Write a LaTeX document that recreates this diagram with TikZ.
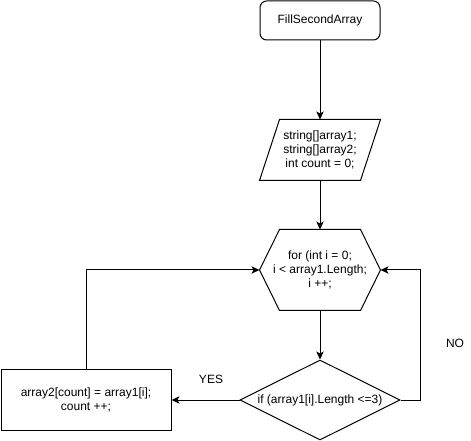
\documentclass[tikz,border=0pt]{standalone}
\usepackage{fontspec}
\setmainfont{Liberation Sans}
\usetikzlibrary{shapes.geometric, arrows.meta, calc}

\begin{document}
\begin{tikzpicture}[
    x=0.75pt, y=-0.75pt,
    line width=0.75pt,
    every node/.style={font=\fontsize{9pt}{10.5pt}\selectfont, align=center},
    term/.style={draw, rounded corners=5pt, minimum width=90pt, minimum height=29.25pt},
    shapebox/.style={minimum width=90pt, inner sep=0pt},
    decision/.style={draw, diamond, aspect=2, inner sep=0pt, minimum width=120pt, minimum height=60pt},
    process/.style={draw, minimum width=127.5pt, minimum height=45pt},
    lbl/.style={text=black},
    arrow/.style={-{Stealth[length=6pt, width=5.5pt, inset=1.5pt]}}
]
    \useasboundingbox (0,0) rectangle (471,441);

    \node[term] (start) at (320,20.5) {FillSecondArray};

    \node[shapebox, minimum height=45pt] (decl) at (320,150) {string[]array1;\\string[]array2;\\int count = 0;};
    \draw ($(decl.north west)+(20,0)$) -- (decl.north east) -- ($(decl.south east)+(-20,0)$) -- (decl.south west) -- cycle;

    \node[shapebox, minimum height=60pt] (loop) at (320,270) {for (int i = 0;\\i < array1.Length;\\i ++;};
    \draw (loop.west) -- ($(loop.north west)+(20,0)$) -- ($(loop.north east)+(-20,0)$) -- (loop.east)
        -- ($(loop.south east)+(-20,0)$) -- ($(loop.south west)+(20,0)$) -- cycle;

    \node[decision] (cond) at (320,400) {if (array1[i].Length <=3)};

    \node[process] (body) at (86,400) {array2[count] = array1[i];\\count ++;};

    \coordinate (noright) at (420,270);
    \node[lbl] (no) at (455,343) {NO};
    \node[lbl] (yes) at (211,379) {YES};

    % flow
    \draw[arrow] (start.south) -- (decl.north);
    \draw[arrow] (decl.south) -- (loop.north);
    \draw[arrow] (loop.south) -- (cond.north);
    \draw[arrow] (cond.east) -| (noright) -- (loop.east);
    \draw[arrow] (cond.west) -- (body.east);
    \draw[arrow] (body.north) |- (loop.west);
\end{tikzpicture}
\end{document}
